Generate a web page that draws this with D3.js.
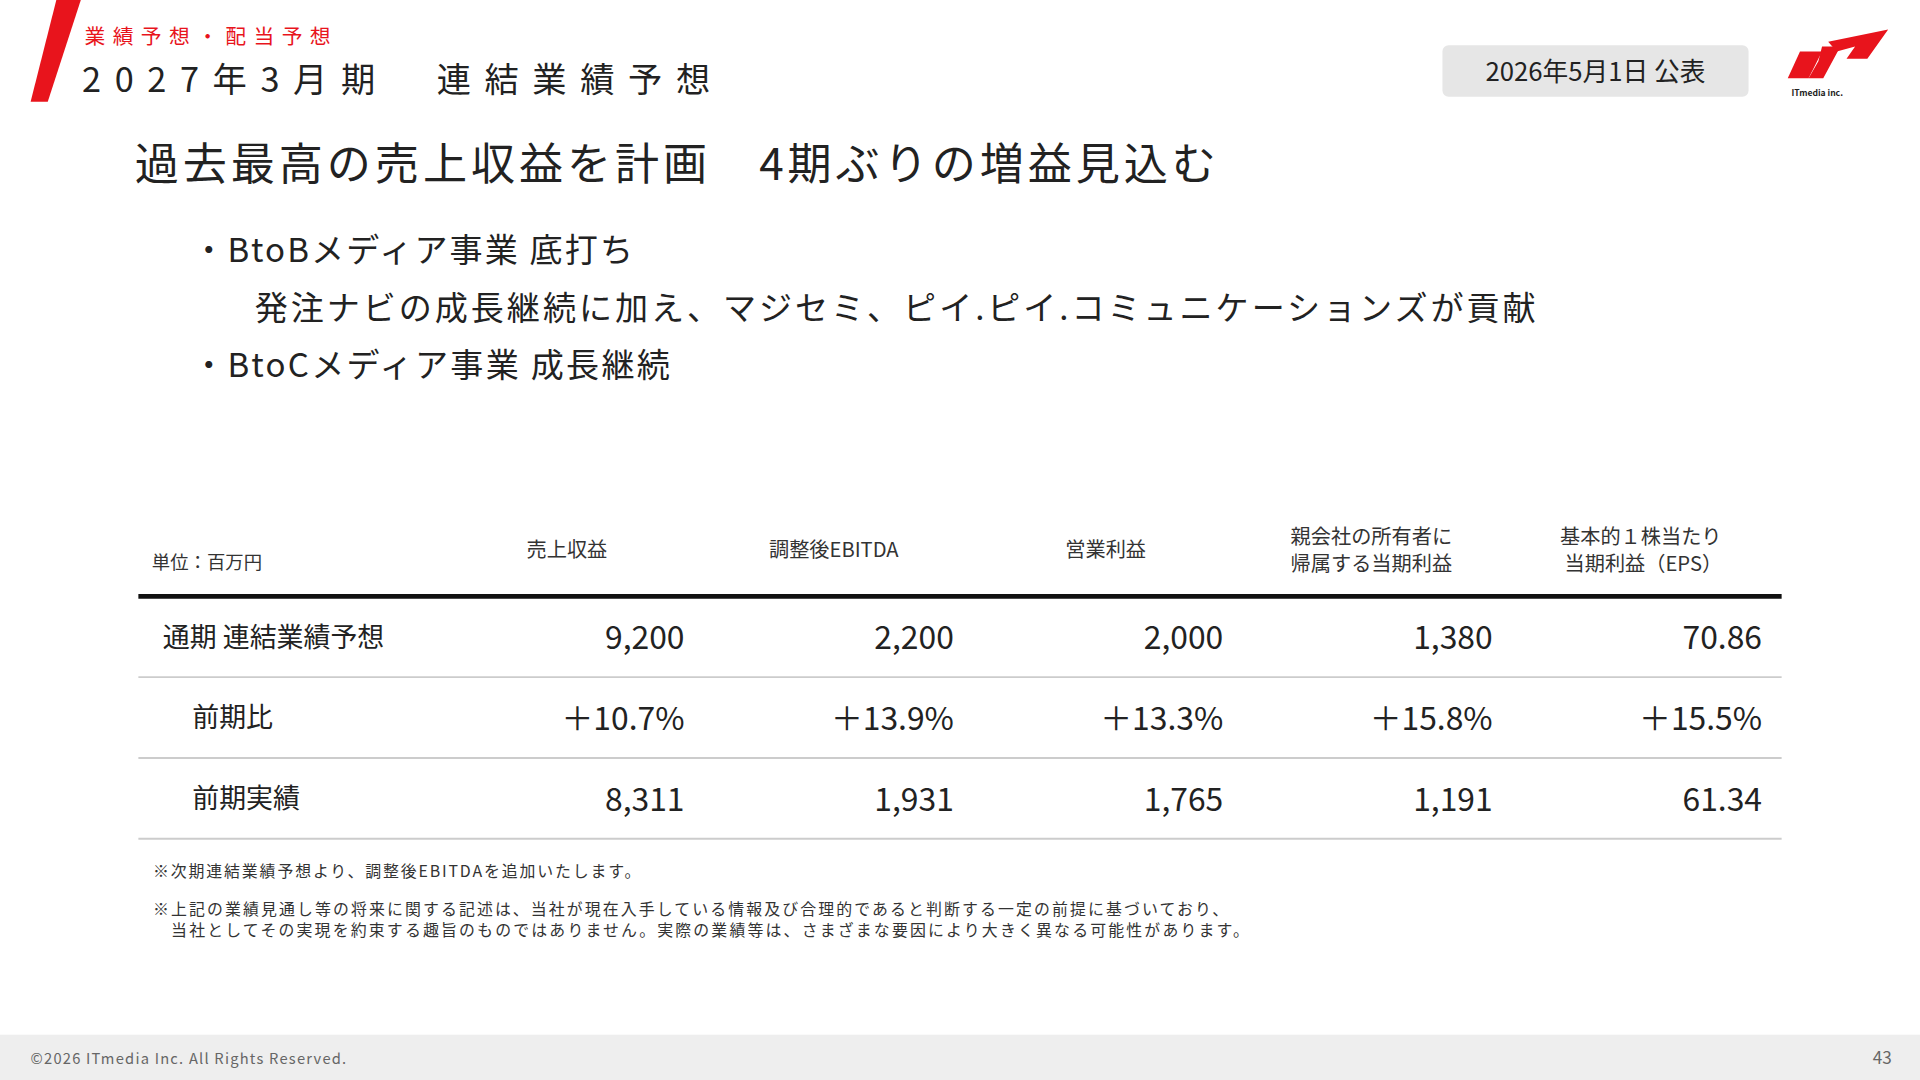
<!DOCTYPE html>
<html><head><meta charset="utf-8">
<script src="https://cdn.jsdelivr.net/npm/d3@7"></script>
<style>body{margin:0;background:#fff}svg{display:block}text{font-family:"Noto Sans CJK JP","Noto Sans",sans-serif}</style>
</head><body><svg id="c" width="1920" height="1080" viewBox="0 0 1568 882"></svg>
<script>
const columns = ["売上収益","調整後EBITDA","営業利益","親会社の所有者に\n帰属する当期利益","基本的１株当たり\n 当期利益（EPS）"];
const rowLabels = ["通期 連結業績予想","前期比","前期実績"];
const forecast = ["9,200","2,200","2,000","1,380","70.86"];
const yoy = ["+10.7%","+13.9%","+13.3%","+15.8%","+15.5%"];
const prior = ["8,311","1,931","1,765","1,191","61.34"];
const rows = [forecast, yoy, prior];

const svg = d3.select("#c");
const red = "#e8141c";
function fit(sel,w){sel.attr("textLength",w).attr("lengthAdjust","spacing");}
// header
svg.append("polygon").attr("points","46,0 66,0 39,83 25,83").attr("fill",red);
fit(svg.append("text").attr("x",69).attr("y",36).attr("font-size",17).attr("fill",red).text("業績予想・配当予想"),201);
fit(svg.append("text").attr("x",67).attr("y",75).attr("font-size",28).attr("fill","#222").text("2027年3月期　連結業績予想"),513);
svg.append("rect").attr("x",1178).attr("y",37).attr("width",250).attr("height",42).attr("rx",5).attr("fill","#e6e6e6");
svg.append("text").attr("x",1303).attr("y",66).attr("text-anchor","middle").attr("font-size",21).attr("fill","#222").text("2026年5月1日 公表");
// logo
const lg = svg.append("g").attr("fill",red);
lg.append("polygon").attr("points","1470,42 1488,42 1477,64 1460,64");
lg.append("polygon").attr("points","1488,38 1503,38 1489,64 1477,64 1485,50");
lg.append("polygon").attr("points","1493,34 1542,24 1525,48 1508,48 1515,38 1500,42");
svg.append("text").attr("x",1463).attr("y",78).attr("font-size",7).attr("font-weight","bold").attr("fill","#222").text("ITmedia inc.");
// title
fit(svg.append("text").attr("x",110).attr("y",147).attr("font-size",36).attr("fill","#222").text("過去最高の売上収益を計画　4期ぶりの増益見込む"),883);
const bl = [["・BtoBメディア事業 底打ち",157,214,360],["発注ナビの成長継続に加え、マジセミ、ピイ.ピイ.コミュニケーションズが貢献",208,261,1046],["・BtoCメディア事業 成長継続",157,308,390]];
svg.selectAll(".b").data(bl).join("text").attr("x",d=>d[1]).attr("y",d=>d[2]).attr("font-size",27).attr("fill","#222")
  .attr("textLength",d=>d[3]).attr("lengthAdjust","spacing").text(d=>d[0]);

// table
const x = d3.scaleBand().domain(d3.range(columns.length)).range([350,1450]);
const y = d3.scaleBand().domain(d3.range(rowLabels.length)).range([487,685]);
svg.append("text").attr("x",124).attr("y",465).attr("font-size",15).attr("fill","#333").text("単位：百万円");
const hx=[430,628,870,1054,1274];
columns.forEach((c,i)=>{
  const lines=c.split("\n");
  const t=svg.append("text").attr("font-size",16.5).attr("fill","#333");
  lines.forEach((l,j)=>t.append("tspan").attr("x",hx[i]).attr("y",(lines.length==1?455:444)+j*22).text(l));
});
svg.append("line").attr("x1",113).attr("x2",1455).attr("y1",487).attr("y2",487).attr("stroke","#111").attr("stroke-width",4);
rowLabels.forEach((r,i)=>{
  const cy=y(i)+y.bandwidth()/2;
  svg.append("line").attr("x1",113).attr("x2",1455).attr("y1",y(i)+y.bandwidth()).attr("y2",y(i)+y.bandwidth()).attr("stroke","#ccc").attr("stroke-width",1.5);
  svg.append("text").attr("x",i==0?133:157).attr("y",cy+8).attr("font-size",22).attr("fill","#222").text(r);
  rows[i].forEach((v,k)=>{
    svg.append("text").attr("x",x(k)+x.bandwidth()-11).attr("y",cy+10).attr("text-anchor","end").attr("font-size",26).attr("fill","#222").text(v.replace("+","＋"));
  });
});
// notes
const notes=[["※次期連結業績予想より、調整後EBITDAを追加いたします。",125,716,398],["※上記の業績見通し等の将来に関する記述は、当社が現在入手している情報及び合理的であると判断する一定の前提に基づいており、",125,747,878],["　当社としてその実現を約束する趣旨のものではありません。実際の業績等は、さまざまな要因により大きく異なる可能性があります。",125,764,895]];
svg.selectAll(".n").data(notes).join("text").attr("x",d=>d[1]).attr("y",d=>d[2]).attr("font-size",13).attr("fill","#333")
  .attr("textLength",d=>d[3]).attr("lengthAdjust","spacing").text(d=>d[0]);
// footer
svg.append("rect").attr("x",0).attr("y",845).attr("width",1568).attr("height",37).attr("fill","#eeeeee");
svg.append("text").attr("x",25).attr("y",869).attr("font-size",12).attr("fill","#666").attr("letter-spacing",1).text("©2026 ITmedia Inc. All Rights Reserved.");
svg.append("text").attr("x",1545).attr("y",869).attr("text-anchor","end").attr("font-size",14).attr("fill","#666").text("43");
</script></body></html>
